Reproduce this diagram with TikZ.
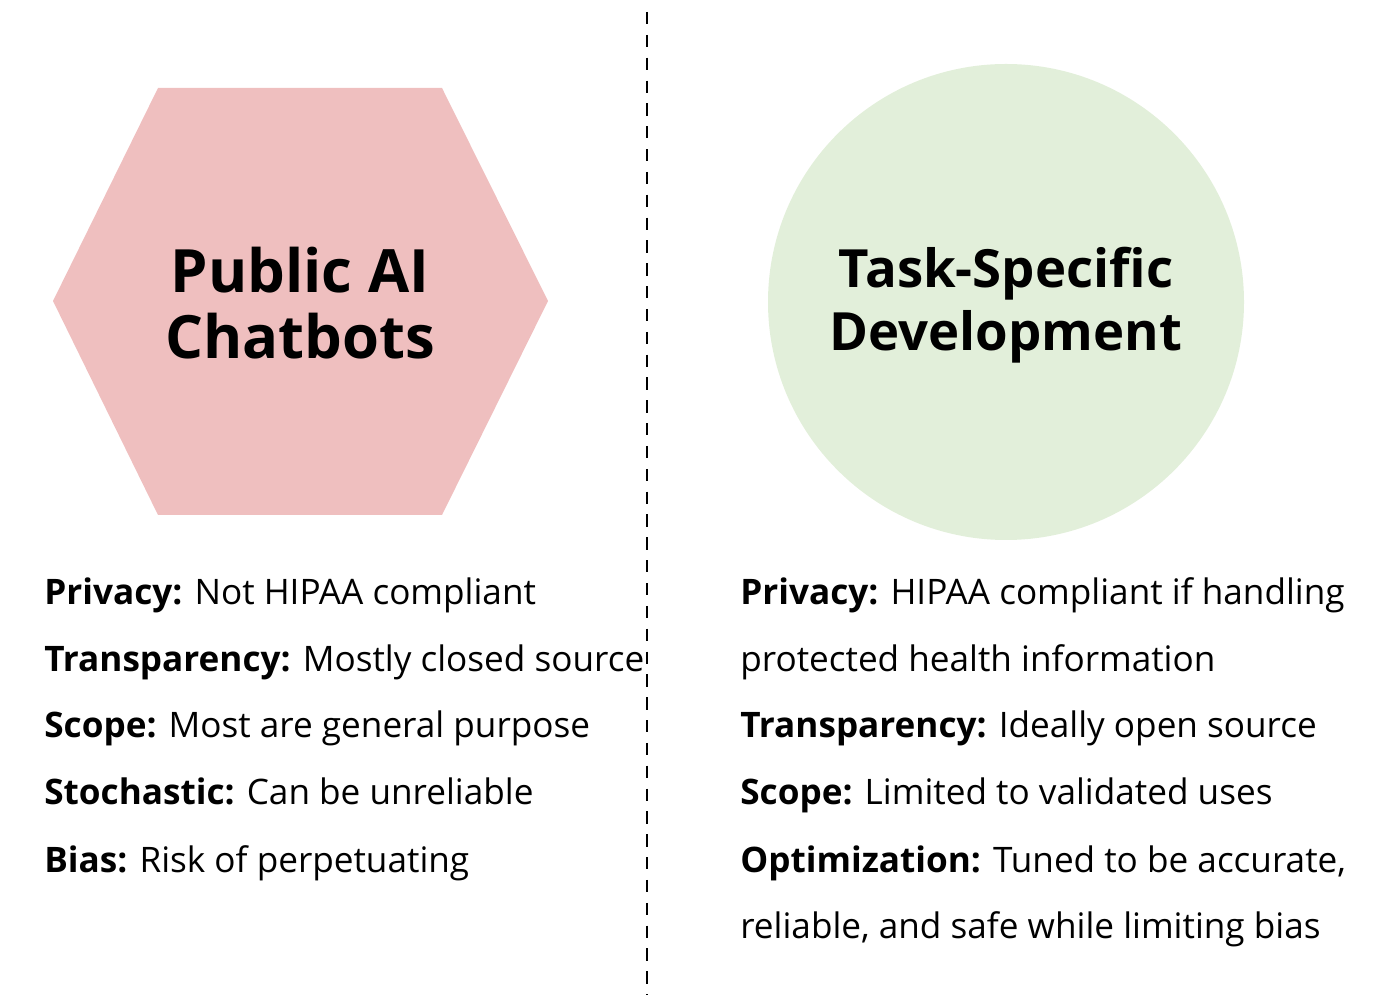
\documentclass[tikz,border=0pt]{standalone}
\usepackage{fontspec}
\setmainfont{Open Sans}
\usetikzlibrary{positioning}
\definecolor{hexpink}{HTML}{EFBFBF}
\definecolor{circgreen}{HTML}{E2EFDA}
\tikzset{
  title/.style={font=\bfseries\fontsize{34}{42}\selectfont, align=center},
  item/.style={anchor=base west, inner sep=0pt, font=\fontsize{20}{24}\selectfont},
}
\newcommand{\lbl}[1]{\textbf{#1}}
\begin{document}
\begin{tikzpicture}[x=0.02cm,y=-0.02cm]
    \useasboundingbox (0,0) rectangle (1400,999);

    % Divider
    \coordinate (top) at (647,12);
    \coordinate (bot) at (647,995);
    \draw[dashed,thick,dash pattern=on 7pt off 6pt] (top) -- (bot);

    % Hexagon
    \fill[hexpink] (158,88) -- (442,88) -- (548,301) -- (442,515) -- (158,515) -- (53,301) -- cycle;
    \node[title] (pub) at (300,303) {Public AI\\[-4pt]Chatbots};

    % Circle
    \fill[circgreen] (1006,302) circle[radius=238];
    \node[title,font=\bfseries\fontsize{30}{38}\selectfont] (task) at (1006,305) {Task-Specific\\[-2pt]Development};

    % Left list
    \node[item] (l1) at (44,605) {\lbl{Privacy:} Not HIPAA compliant};
    \node[item] (l2) at (44,672) {\lbl{Transparency:} Mostly closed source};
    \node[item] (l3) at (44,738) {\lbl{Scope:} Most are general purpose};
    \node[item] (l4) at (44,805) {\lbl{Stochastic:} Can be unreliable};
    \node[item] (l5) at (44,872) {\lbl{Bias:} Risk of perpetuating};

    % Right list
    \node[item] (r1) at (740,605) {\lbl{Privacy:} HIPAA compliant if handling};
    \node[item] (r2) at (740,672) {protected health information};
    \node[item] (r3) at (740,738) {\lbl{Transparency:} Ideally open source};
    \node[item] (r4) at (740,805) {\lbl{Scope:} Limited to validated uses};
    \node[item] (r5) at (740,872) {\lbl{Optimization:} Tuned to be accurate,};
    \node[item] (r6) at (740,938) {reliable, and safe while limiting bias};
\end{tikzpicture}
\end{document}
